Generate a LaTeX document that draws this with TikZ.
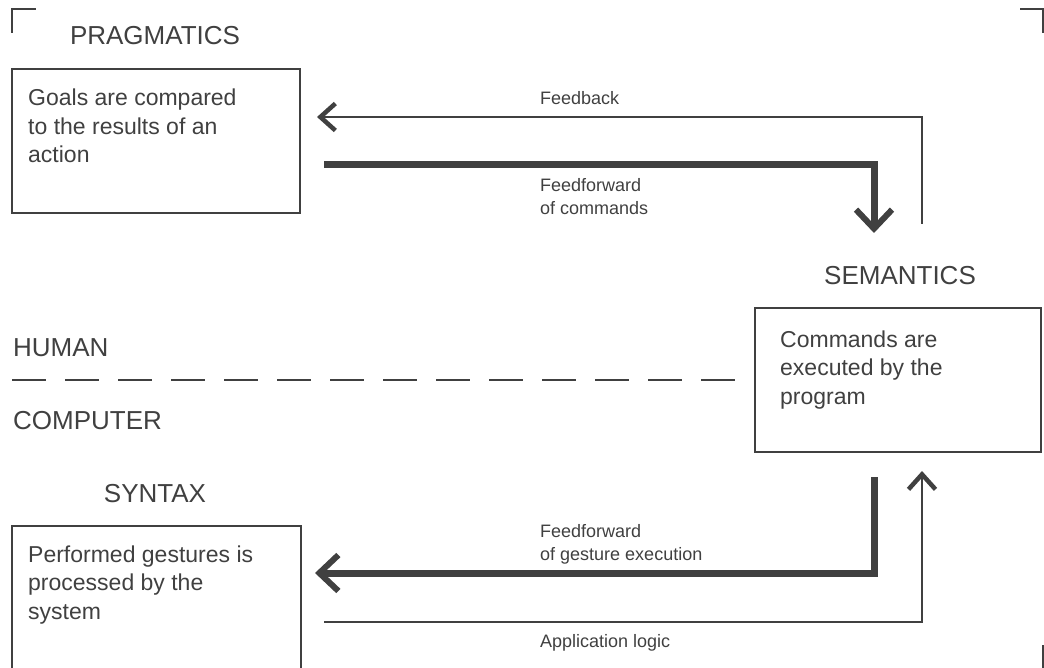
\documentclass[tikz,border=0pt]{standalone}
\usepackage{fontspec}
\setmainfont{Liberation Sans}
\usetikzlibrary{arrows.meta}

\definecolor{ink}{HTML}{404040}

\tikzset{
  headline/.style={font=\fontsize{26}{31}\selectfont, text=ink, inner sep=0pt},
  bodytext/.style={font=\fontsize{23}{28.5}\selectfont, text=ink, align=left, inner sep=0pt, anchor=base west},
  smalltext/.style={font=\fontsize{18}{23}\selectfont, text=ink, align=left, inner sep=0pt, anchor=base west},
  stage/.style={draw=ink, line width=2pt, outer sep=0pt, inner sep=0pt, anchor=north west},
  thinflow/.style={draw=ink, line width=2.2pt, -{Straight Barb[length=15pt,width=27pt,line width=4.5pt]}},
  thickflow/.style={draw=ink, line width=7pt, -{Straight Barb[length=19pt,width=36pt,line width=6pt]}},
  corner/.style={draw=ink, line width=2pt}
}

\begin{document}
\begin{tikzpicture}[x=1pt,y=-1pt]
    \useasboundingbox (0,0) rectangle (1044,668);

    % corner marks
    \draw [corner] (12,33) -- (12,9) -- (36,9);
    \draw [corner] (1020,9) -- (1043,9) -- (1043,33);
    \draw [corner] (1043,645) -- (1043,668);

    % pragmatics
    \node [headline] (prag) at (155,36) {PRAGMATICS};
    \node [stage, minimum width=288pt, minimum height=144pt] (pragbox) at (12,69) {};
    \node [bodytext] (pragtext) at (28,163) {Goals are compared\\to the results of an\\action};

    % semantics
    \node [headline] (sem) at (900,276) {SEMANTICS};
    \node [stage, minimum width=286pt, minimum height=144pt] (sembox) at (755,308) {};
    \node [bodytext] (semtext) at (780,404) {Commands are\\executed by the\\program};

    % syntax (box runs off the bottom)
    \node [headline] (syn) at (155,494) {SYNTAX};
    \draw [corner] (12,668) |- (301,526) -- (301,668);
    \node [bodytext] (syntext) at (28,619) {Performed gestures is\\processed by the\\system};

    % human / computer split
    \node [headline, anchor=west] (human) at (13,348) {HUMAN};
    \node [headline, anchor=west] (computer) at (13,421) {COMPUTER};
    \draw [draw=ink, line width=2.2pt, dash pattern=on 34pt off 19pt] (12,380) -- (738,380);

    % connectors
    \coordinate (fbstart) at (922,224);
    \coordinate (fbend) at (317,117);
    \draw [thinflow] (fbstart) |- (fbend);
    \node [smalltext] (fbtext) at (540,105) {Feedback};

    \coordinate (ffcstart) at (324,165);
    \coordinate (ffcend) at (874,233);
    \draw [thickflow] (ffcstart) -| (ffcend);
    \node [smalltext] (ffctext) at (540,215) {Feedforward\\of commands};

    \coordinate (ffgstart) at (874,477);
    \coordinate (ffgend) at (315,573);
    \draw [thickflow] (ffgstart) |- (ffgend);
    \node [smalltext] (ffgtext) at (540,560) {Feedforward\\of gesture execution};

    \coordinate (alstart) at (324,622);
    \coordinate (alend) at (922,471);
    \draw [thinflow] (alstart) -| (alend);
    \node [smalltext] (altext) at (540,647) {Application logic};
\end{tikzpicture}
\end{document}
